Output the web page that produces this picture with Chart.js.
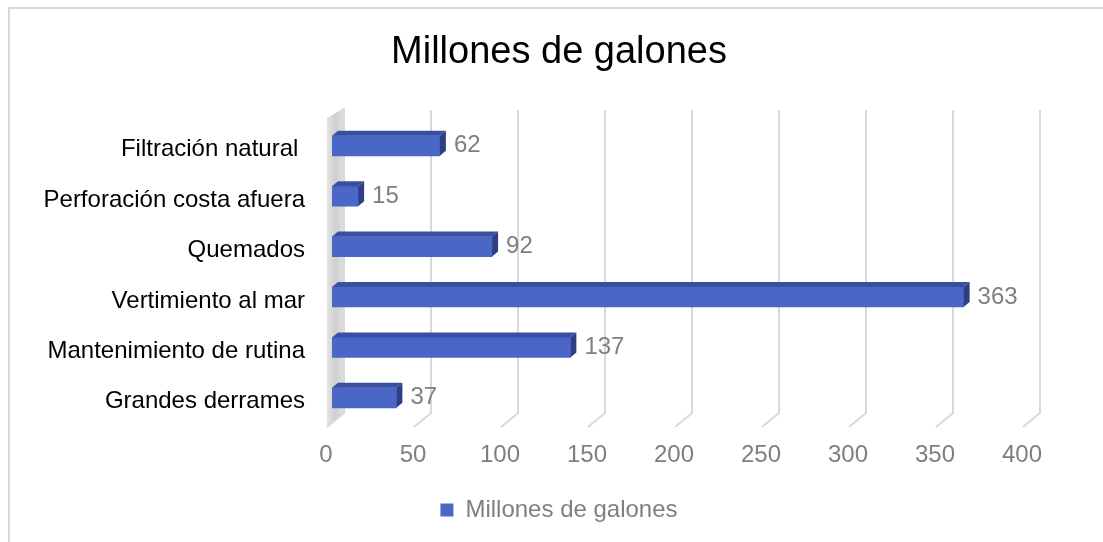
<!DOCTYPE html>
<html lang="es">
<head>
<meta charset="utf-8">
<title>Millones de galones</title>
<script src="https://cdn.jsdelivr.net/npm/chart.js@4/dist/chart.umd.min.js"></script>
<style>
  html, body { margin: 0; padding: 0; background: #fff; }
  #wrap { position: relative; width: 1103px; height: 542px; overflow: hidden; }
  #frame {
    position: absolute; left: 8px; top: 7px; width: 1200px; height: 600px;
    border-left: 2px solid #d9d9d9; border-top: 2px solid #d9d9d9;
  }
  #chart { position: absolute; left: 0; top: 0; }
</style>
</head>
<body>
<div id="wrap">
  <div id="frame"></div>
  <canvas id="chart" width="1103" height="542"></canvas>
</div>
<script>
// ── Data ─────────────────────────────────────────────────────────
const categories = [
  'Filtración natural ',
  'Perforación costa afuera',
  'Quemados',
  'Vertimiento al mar',
  'Mantenimiento de rutina',
  'Grandes derrames',
];
const galones = [62, 15, 92, 363, 137, 37];
const seriesName = 'Millones de galones';
const xTicks = [0, 50, 100, 150, 200, 250, 300, 350, 400];

// ── Look ─────────────────────────────────────────────────────────
const FONT = "'Liberation Sans', Arial, sans-serif";
const COLORS = {
  front: '#4a66c7',
  top: '#3a4f9e',
  side: '#2e3f86',
  grid: '#d9d9d9',
  label: '#7f7f7f',
  text: '#000000',
};
const DEPTH_X = 6, DEPTH_Y = 5;     // bar extrusion
const BACK_X = 12;                   // back wall shift of gridlines
const GRID_TOP = 110, GRID_BOTTOM = 413, FLOOR_DX = 17, FLOOR_DY = 14;

Chart.defaults.font.family = FONT;

// back wall, gridlines and floor ticks (drawn behind the bars)
const backdrop = {
  id: 'backdrop',
  beforeDatasetsDraw(chart) {
    const { ctx } = chart;
    const xs = chart.scales.x;
    ctx.save();
    ctx.strokeStyle = COLORS.grid;
    ctx.lineWidth = 2;
    xTicks.forEach(v => {
      if (v === 0) return;
      const bx = xs.getPixelForValue(v) + BACK_X;
      ctx.beginPath();
      ctx.moveTo(bx, GRID_TOP);
      ctx.lineTo(bx, GRID_BOTTOM);
      ctx.lineTo(bx - FLOOR_DX, GRID_BOTTOM + FLOOR_DY);
      ctx.stroke();
    });
    // left side wall
    const wx = xs.getPixelForValue(0) + BACK_X;
    const g = ctx.createLinearGradient(wx - FLOOR_DX, 0, wx, 0);
    g.addColorStop(0, '#e4e4e4');
    g.addColorStop(0.5, '#cfcfcf');
    g.addColorStop(1, '#e0e0e0');
    ctx.fillStyle = g;
    ctx.beginPath();
    ctx.moveTo(wx, GRID_TOP - 2);
    ctx.lineTo(wx, GRID_BOTTOM);
    ctx.lineTo(wx - FLOOR_DX, GRID_BOTTOM + FLOOR_DY);
    ctx.lineTo(wx - FLOOR_DX, GRID_TOP + 8);
    ctx.closePath();
    ctx.fill();
    ctx.beginPath();
    ctx.moveTo(wx, GRID_TOP - 2);
    ctx.lineTo(wx, GRID_BOTTOM);
    ctx.lineTo(wx - FLOOR_DX, GRID_BOTTOM + FLOOR_DY);
    ctx.stroke();
    ctx.restore();
  }
};

// top and side faces of each bar, then the value labels
const bars3d = {
  id: 'bars3d',
  afterDatasetsDraw(chart) {
    const { ctx } = chart;
    const meta = chart.getDatasetMeta(0);
    ctx.save();
    meta.data.forEach((bar, i) => {
      const { x, y, base, height } = bar.getProps(['x', 'y', 'base', 'height'], true);
      const top = y - height / 2, bottom = y + height / 2;
      ctx.fillStyle = COLORS.top;
      ctx.beginPath();
      ctx.moveTo(base, top);
      ctx.lineTo(base + DEPTH_X, top - DEPTH_Y);
      ctx.lineTo(x + DEPTH_X, top - DEPTH_Y);
      ctx.lineTo(x, top);
      ctx.closePath();
      ctx.fill();
      ctx.fillStyle = COLORS.side;
      ctx.beginPath();
      ctx.moveTo(x, top);
      ctx.lineTo(x + DEPTH_X, top - DEPTH_Y);
      ctx.lineTo(x + DEPTH_X, bottom - DEPTH_Y);
      ctx.lineTo(x, bottom);
      ctx.closePath();
      ctx.fill();

      ctx.fillStyle = COLORS.label;
      ctx.font = `24px ${FONT}`;
      ctx.textAlign = 'left';
      ctx.textBaseline = 'middle';
      ctx.fillText(String(galones[i]), x + 14, y);
    });
    ctx.restore();
  }
};

new Chart(document.getElementById('chart'), {
  type: 'bar',
  data: {
    labels: categories,
    datasets: [{
      label: seriesName,
      data: galones,
      backgroundColor: COLORS.front,
      borderWidth: 0,
      barThickness: 20,
      yAxisID: 'y',
    }]
  },
  options: {
    indexAxis: 'y',
    responsive: false,
    animation: false,
    layout: { padding: { left: 15, right: 0, top: 0, bottom: 10 } },
    plugins: {
      title: {
        display: true,
        text: seriesName,
        color: COLORS.text,
        font: { size: 38, weight: 'normal' },
        padding: { top: 30, bottom: 45 },
      },
      legend: {
        display: true,
        position: 'bottom',
        labels: {
          boxWidth: 13,
          boxHeight: 13,
          color: COLORS.label,
          font: { size: 24 },
        }
      },
      tooltip: { enabled: false },
    },
    scales: {
      x: {
        type: 'linear',
        min: 0,
        max: 400,
        grid: { display: false, drawTicks: false },
        border: { display: false },
        ticks: {
          stepSize: 50,
          color: COLORS.label,
          font: { size: 24 },
          padding: 18,
          labelOffset: -6,
          maxRotation: 0,
        },
        afterFit: (s) => { s.height = 65; },
      },
      y: {
        position: 'left',
        grid: { display: false, drawTicks: false },
        border: { display: false },
        ticks: { color: COLORS.text, font: { size: 24 }, padding: 27, labelOffset: 4 },
        afterFit: (s) => { s.width = 317; },
      },
      // empty right-hand gutter
      gutter: {
        type: 'linear',
        position: 'right',
        grid: { display: false, drawTicks: false },
        border: { display: false },
        ticks: { display: false },
        afterFit: (s) => { s.width = 75; },
      },
    },
  },
  plugins: [backdrop, bars3d],
});
</script>
</body>
</html>
